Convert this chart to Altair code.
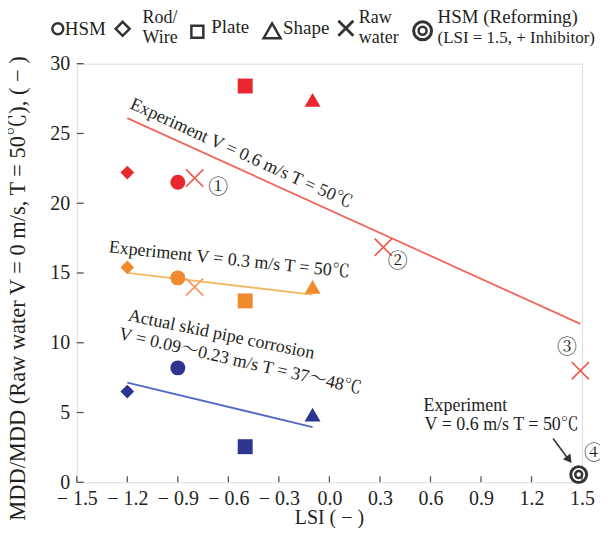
import altair as alt
import pandas as pd

SERIF = "Liberation Serif, Times New Roman, Noto Serif CJK JP, Noto Sans CJK JP, serif"
INK = "#231f20"

# ---------------- data ----------------
# marker order: Rod/Wire, HSM, Plate, Shape
marker_shape = ["diamond", "circle", "square", "triangle-up"]
marker_lsi = [-1.2, -0.9, -0.5, -0.1]
mdd_exp_v06 = [22.2, 21.5, 28.4, 27.4]      # Experiment V=0.6 m/s
mdd_exp_v03 = [15.4, 14.65, 13.0, 14.0]     # Experiment V=0.3 m/s
mdd_actual = [6.5, 8.2, 2.55, 4.85]         # Actual skid pipe corrosion

raw_v06_lsi = [-0.8, 0.32, 1.49]
raw_v06_mdd = [21.8, 16.85, 8.0]
raw_v03_lsi = [-0.8]
raw_v03_mdd = [14.0]

reform_lsi = [1.48]
reform_mdd = [0.55]

fit_v06_lsi = [-1.2, 1.49]
fit_v06_mdd = [26.1, 11.35]
fit_v03_lsi = [-1.2, -0.1]
fit_v03_mdd = [15.0, 13.45]
fit_act_lsi = [-1.2, -0.1]
fit_act_mdd = [7.15, 3.95]

x_ticks = [-1.5, -1.2, -0.9, -0.6, -0.3, 0.0, 0.3, 0.6, 0.9, 1.2, 1.5]
y_ticks = [0, 5, 10, 15, 20, 25, 30]

# ---------------- styling ----------------
RED, ORANGE, BLUE = "#e8282e", "#f08a2d", "#2e3590"
RED_L, ORANGE_L, BLUE_L = "#f0675c", "#f7b866", "#5567c6"
RED_X, ORANGE_X = "#ee5a4f", "#f39a62"
SIZE = {"diamond": 190, "circle": 225, "square": 225, "triangle-up": 256}
CROSS = "M-1,-1L1,1M-1,1L1,-1"

W, H = 507, 420

X = alt.X("lsi:Q",
          scale=alt.Scale(domain=[-1.5, 1.5], nice=False, zero=False),
          axis=alt.Axis(values=x_ticks, grid=False, domain=False, ticks=False,
                        labelExpr="datum.value < 0 ? '\u2212 ' + format(-datum.value, '.1f') : format(datum.value, '.1f')",
                        labelFont=SERIF, labelFontSize=20, labelColor=INK,
                        labelPadding=6, labelBaseline="top", labelFlush=False,
                        title="LSI ( \u2212 )", titleFont=SERIF, titleFontSize=20,
                        titleFontWeight="normal", titleColor=INK,
                        titleX=253, titleY=41, titleBaseline="alphabetic",
                        titleAlign="center"))
Y = alt.Y("mdd:Q",
          scale=alt.Scale(domain=[0, 30], nice=False, zero=False),
          axis=alt.Axis(values=y_ticks, grid=False, domain=False, ticks=False,
                        format="d", labelFont=SERIF, labelFontSize=20,
                        labelColor=INK, labelPadding=7, labelFlush=False,
                        title="MDD/MDD (Raw water V = 0 m/s, T = 50\u2103), ( \u2212 )",
                        titleFont=SERIF, titleFontSize=22.5, titleFontWeight="normal",
                        titleColor=INK, titleAngle=270, titleX=-52, titleY=225,
                        titleAlign="center", titleBaseline="alphabetic"))

# ---------------- tables ----------------
rows = []
for col, vals in [(RED, mdd_exp_v06), (ORANGE, mdd_exp_v03), (BLUE, mdd_actual)]:
    for s, x, v in zip(marker_shape, marker_lsi, vals):
        rows.append({"lsi": x, "mdd": v, "shape": s, "col": col, "size": SIZE[s]})
pts = pd.DataFrame(rows)

crosses = pd.DataFrame(
    [{"lsi": x, "mdd": v, "col": RED_X} for x, v in zip(raw_v06_lsi, raw_v06_mdd)]
    + [{"lsi": x, "mdd": v, "col": ORANGE_X} for x, v in zip(raw_v03_lsi, raw_v03_mdd)])

fits = pd.DataFrame(
    [{"lsi": x, "mdd": v, "g": "v06", "col": RED_L} for x, v in zip(fit_v06_lsi, fit_v06_mdd)]
    + [{"lsi": x, "mdd": v, "g": "v03", "col": ORANGE_L} for x, v in zip(fit_v03_lsi, fit_v03_mdd)]
    + [{"lsi": x, "mdd": v, "g": "act", "col": BLUE_L} for x, v in zip(fit_act_lsi, fit_act_mdd)])

reform = pd.DataFrame({"lsi": reform_lsi, "mdd": reform_mdd})

layers = []

# inward ticks
layers.append(alt.Chart(pd.DataFrame({"lsi": x_ticks})).mark_rule(color="#555", strokeWidth=1.3)
              .encode(x=X, y=alt.value(H), y2=alt.value(H - 6)))
layers.append(alt.Chart(pd.DataFrame({"mdd": y_ticks})).mark_rule(color="#555", strokeWidth=1.3)
              .encode(y=Y, x=alt.value(0), x2=alt.value(7)))

# fitted lines
layers.append(alt.Chart(fits).mark_line(strokeWidth=1.8).encode(
    x=X, y=Y, detail="g:N", color=alt.Color("col:N", scale=None)))

# filled markers
layers.append(alt.Chart(pts).mark_point(filled=True, opacity=1).encode(
    x=X, y=Y,
    shape=alt.Shape("shape:N", scale=None),
    color=alt.Color("col:N", scale=None),
    size=alt.Size("size:Q", scale=None)))

# raw-water crosses
layers.append(alt.Chart(crosses).mark_point(shape=CROSS, filled=False, size=300,
                                            strokeWidth=1.7, opacity=1).encode(
    x=X, y=Y, stroke=alt.Stroke("col:N", scale=None)))

# HSM (Reforming) double circle
layers.append(alt.Chart(reform).mark_point(shape="circle", filled=False, size=256,
                                           strokeWidth=3, color="#333", opacity=1).encode(x=X, y=Y))
layers.append(alt.Chart(reform).mark_point(shape="circle", filled=False, size=49,
                                           strokeWidth=2.5, color="#333", opacity=1).encode(x=X, y=Y))

# annotations along lines
ann = [
    ("Experiment V = 0.6 m/s T = 50\u2103", -0.524, 23.55, 24.5, "center"),
    ("Experiment V = 0.3 m/s T = 50\u2103", -0.595, 15.93, 6, "center"),
    ("Actual skid pipe corrosion", -0.642, 10.57, 11.6, "center"),
    ("V = 0.09\u301c0.23 m/s T = 37\u301c48\u2103", -0.530, 8.64, 12.9, "center"),
    ("Experiment", 0.559, 5.5, 0, "left"),
    ("V = 0.6 m/s T = 50\u2103", 0.565, 4.07, 0, "left"),
]
for t, x, y, a, al in ann:
    layers.append(alt.Chart(pd.DataFrame({"lsi": [x], "mdd": [y], "t": [t]}))
                  .mark_text(font=SERIF, fontSize=18, color=INK, angle=a, align=al,
                             baseline="middle")
                  .encode(x=X, y=Y, text="t:N"))

circ = pd.DataFrame({"lsi": [-0.66, 0.405, 1.411, 1.57],
                     "mdd": [21.1, 15.8, 9.6, 2.0],
                     "t": ["\u2460", "\u2461", "\u2462", "\u2463"]})
layers.append(alt.Chart(circ).mark_text(font=SERIF, fontSize=20, color=INK,
                                        baseline="middle", align="center")
              .encode(x=X, y=Y, text="t:N"))

# arrow
arrow = pd.DataFrame({"lsi": [1.328, 1.425], "mdd": [3.14, 1.55]})
layers.append(alt.Chart(arrow).mark_line(color="#333", strokeWidth=1.6).encode(x=X, y=Y))
layers.append(alt.Chart(pd.DataFrame({"lsi": [1.423], "mdd": [1.62]}))
              .mark_point(shape="triangle-up", filled=True, size=90, angle=143,
                          color="#333", opacity=1).encode(x=X, y=Y))

# ---------------- manual legend (pixel layout relative to plot origin) ----------------
OX, OY = 77, 63
leg_sym = pd.DataFrame([
    {"px": 58, "py": 28, "shape": "circle", "size": 121, "sw": 2.5},
    {"px": 123, "py": 28, "shape": "diamond", "size": 196, "sw": 2.5},
    {"px": 198, "py": 31, "shape": "square", "size": 144, "sw": 2.5},
    {"px": 273, "py": 30, "shape": "triangle-up", "size": 289, "sw": 2.5},
    {"px": 347, "py": 27.5, "shape": CROSS, "size": 225, "sw": 2.8},
    {"px": 424, "py": 30, "shape": "circle", "size": 324, "sw": 3},
    {"px": 424, "py": 30, "shape": "circle", "size": 64, "sw": 2.5},
])
leg_sym["px"] -= OX
leg_sym["py"] -= OY
layers.append(alt.Chart(leg_sym).mark_point(filled=False, color="#333", opacity=1).encode(
    x=alt.X("px:Q", scale=None, axis=None), y=alt.Y("py:Q", scale=None, axis=None),
    shape=alt.Shape("shape:N", scale=None), size=alt.Size("size:Q", scale=None),
    strokeWidth=alt.StrokeWidth("sw:Q", scale=None)))

leg_txt = pd.DataFrame([
    {"px": 65, "py": 34, "t": "HSM", "fs": 19},
    {"px": 143, "py": 22, "t": "Rod/", "fs": 18},
    {"px": 143, "py": 42, "t": "Wire", "fs": 18},
    {"px": 212, "py": 32, "t": "Plate", "fs": 19},
    {"px": 284, "py": 33, "t": "Shape", "fs": 19},
    {"px": 360, "py": 22, "t": "Raw", "fs": 18},
    {"px": 360, "py": 42, "t": "water", "fs": 18},
    {"px": 439, "py": 22, "t": "HSM (Reforming)", "fs": 19},
    {"px": 439, "py": 42, "t": "(LSI = 1.5,  + Inhibitor)", "fs": 17},
])
leg_txt["px"] -= OX
leg_txt["py"] -= OY
layers.append(alt.Chart(leg_txt).mark_text(font=SERIF, color=INK,
                                           align="left", baseline="alphabetic").encode(
    x=alt.X("px:Q", scale=None, axis=None), y=alt.Y("py:Q", scale=None, axis=None),
    size=alt.Size("fs:Q", scale=None), text="t:N"))

chart = (alt.layer(*layers)
         .properties(width=W, height=H,
                     autosize=alt.AutoSizeParams(type="none"),
                     padding={"left": OX - 8, "top": OY - 8, "right": 18, "bottom": 45})
         .configure_view(stroke="#4a4a4a", strokeWidth=1.6)
         .configure(background="white"))

chart.save("out.html", embed_options={"renderer": "svg", "actions": False})
